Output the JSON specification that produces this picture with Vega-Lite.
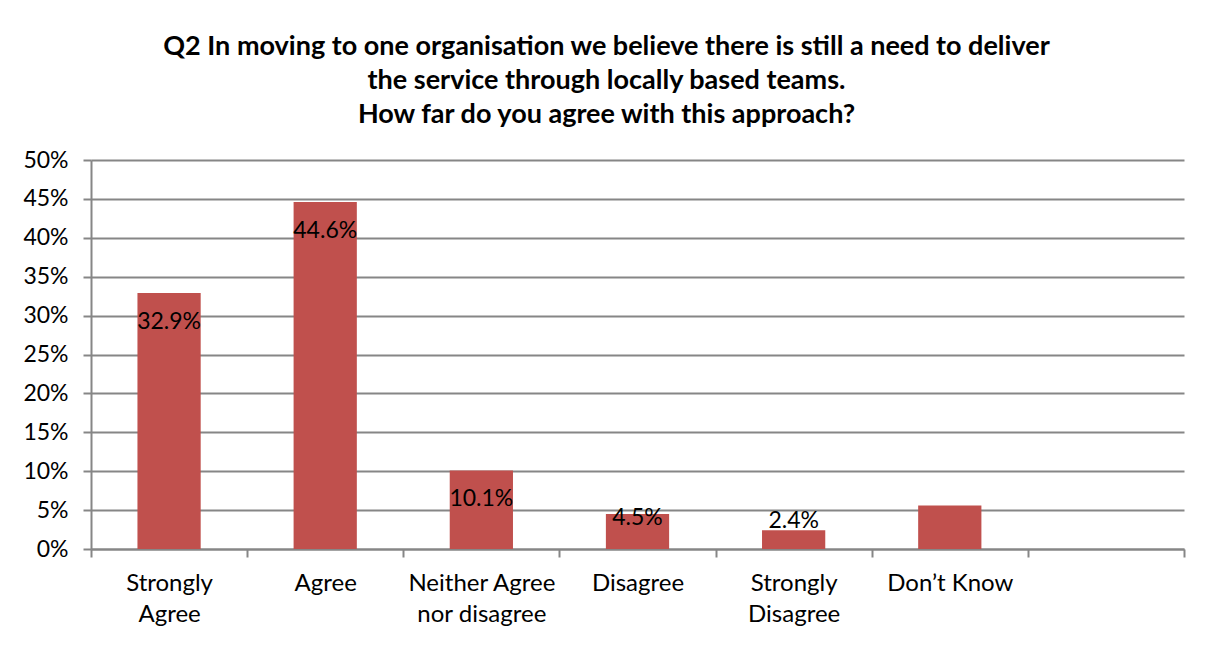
{
  "$schema": "https://vega.github.io/schema/vega-lite/v6.json",
  "autosize": {"type": "none"},
  "width": 1093,
  "height": 389,
  "padding": {"left": 91, "top": 160, "right": 28, "bottom": 98},
  "background": "white",
  "title": {
    "text": ["Q2 In moving to one organisation we believe there is still a need to deliver", "the service through locally based teams.", "How far do you agree with this approach?"],
    "font": "Lato",
    "fontSize": 27,
    "fontWeight": "bold",
    "color": "black",
    "lineHeight": 34,
    "anchor": "middle",
    "dx": -31,
    "offset": 20
  },
  "data": {
    "values": [
      {"category": "Strongly Agree", "value": 0.329, "label": "32.9%"},
      {"category": "Agree", "value": 0.446, "label": "44.6%"},
      {"category": "Neither Agree nor disagree", "value": 0.101, "label": "10.1%"},
      {"category": "Disagree", "value": 0.045, "label": "4.5%"},
      {"category": "Strongly Disagree", "value": 0.024, "label": "2.4%"},
      {"category": "Don’t Know", "value": 0.056, "label": ""}
    ]
  },
  "encoding": {
    "x": {
      "field": "category",
      "type": "nominal",
      "sort": null,
      "scale": {
        "domain": ["Strongly Agree", "Agree", "Neither Agree nor disagree", "Disagree", "Strongly Disagree", "Don’t Know", " "],
        "paddingInner": 0,
        "paddingOuter": 0
      },
      "axis": {
        "title": null,
        "labelAngle": 0,
        "labelExpr": "datum.value == 'Strongly Agree' ? ['Strongly', 'Agree'] : datum.value == 'Neither Agree nor disagree' ? ['Neither Agree', 'nor disagree'] : datum.value == 'Strongly Disagree' ? ['Strongly', 'Disagree'] : datum.value",
        "labelFont": "Lato",
        "labelFontSize": 24,
        "labelColor": "black",
        "labelLineHeight": 31,
        "labelPadding": 14,
        "labelBaseline": "top",
        "tickBand": "extent",
        "tickSize": 8,
        "tickColor": "#868686",
        "tickWidth": 2,
        "domainColor": "#868686",
        "domainWidth": 2,
        "grid": false
      }
    },
    "y": {
      "field": "value",
      "type": "quantitative",
      "scale": {"domain": [0, 0.5], "nice": false},
      "axis": {
        "title": null,
        "values": [0, 0.05, 0.1, 0.15, 0.2, 0.25, 0.3, 0.35, 0.4, 0.45, 0.5],
        "format": ".0%",
        "labelFont": "Lato",
        "labelFontSize": 23,
        "labelColor": "black",
        "labelPadding": 15,
        "tickSize": 8,
        "tickColor": "#868686",
        "tickWidth": 2,
        "domainColor": "#868686",
        "domainWidth": 2,
        "grid": true,
        "gridColor": "#868686",
        "gridWidth": 2
      }
    }
  },
  "layer": [
    {"mark": {"type": "bar", "color": "#C0504D", "width": {"band": 0.405}}},
    {
      "transform": [{"filter": "datum.value >= 0.08"}],
      "mark": {"type": "text", "font": "Lato", "fontSize": 23, "color": "black", "baseline": "middle", "dy": 29},
      "encoding": {"text": {"field": "label"}}
    },
    {
      "transform": [{"filter": "datum.category == 'Disagree'"}],
      "mark": {"type": "text", "font": "Lato", "fontSize": 23, "color": "black", "baseline": "middle", "dy": 4},
      "encoding": {"text": {"field": "label"}}
    },
    {
      "transform": [{"filter": "datum.category == 'Strongly Disagree'"}],
      "mark": {"type": "text", "font": "Lato", "fontSize": 23, "color": "black", "baseline": "middle", "dy": -9},
      "encoding": {"text": {"field": "label"}}
    }
  ],
  "config": {"view": {"stroke": null}}
}
